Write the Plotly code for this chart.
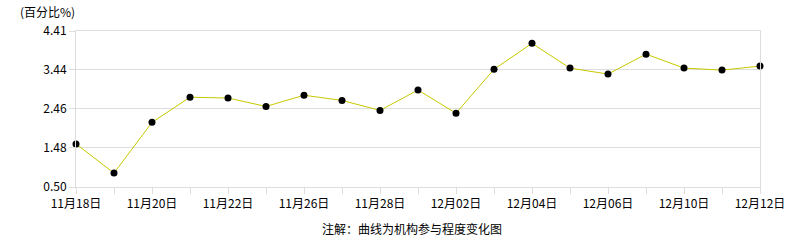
import plotly.graph_objects as go

dates = ["11月18日", "11月19日", "11月20日", "11月21日", "11月22日", "11月25日", "11月26日",
         "11月27日", "11月28日", "11月29日", "12月02日", "12月03日", "12月04日", "12月05日",
         "12月06日", "12月09日", "12月10日", "12月11日", "12月12日"]
values = [1.58, 0.85, 2.12, 2.75, 2.73, 2.52, 2.80, 2.67, 2.42, 2.93, 2.35, 3.45, 4.10,
          3.48, 3.33, 3.83, 3.48, 3.43, 3.53]
y_ticks = [0.50, 1.48, 2.46, 3.44, 4.41]
y_title = "(百分比%)"
note = "注解：曲线为机构参与程度变化图"

font_family = "Noto Sans CJK SC, DejaVu Sans, sans-serif"
grid = "#dddddd"

tick_text = [d if i % 2 == 0 else "" for i, d in enumerate(dates)]

fig = go.Figure()
fig.add_trace(go.Scatter(
    x=list(range(len(dates))), y=values, mode="lines+markers",
    line=dict(color="#c8c800", width=1),
    marker=dict(color="#000000", size=7),
    hoverinfo="skip", showlegend=False, cliponaxis=False,
))

fig.update_layout(
    width=786, height=240,
    margin=dict(l=76, r=26, t=31, b=53, autoexpand=False),
    paper_bgcolor="white", plot_bgcolor="white",
    font=dict(family=font_family, size=12, color="#000000"),
    xaxis=dict(
        range=[0, len(dates) - 1], tickmode="array",
        tickvals=list(range(len(dates))), ticktext=tick_text,
        ticks="outside", ticklen=6, tickcolor=grid,
        showgrid=False, showline=True, linecolor=grid, linewidth=1, mirror=True,
        zeroline=False, tickangle=0, fixedrange=True, automargin=False,
    ),
    yaxis=dict(
        range=[y_ticks[0], y_ticks[-1]], tickmode="array",
        tickvals=y_ticks, ticktext=[f"{v:.2f}" for v in y_ticks],
        ticks="outside", ticklen=6, tickcolor=grid,
        showgrid=True, gridcolor=grid, gridwidth=1,
        showline=True, linecolor=grid, linewidth=1, mirror=True,
        zeroline=False, fixedrange=True, automargin=False,
    ),
    annotations=[
        dict(text=y_title, xref="paper", yref="paper", x=-76/684, y=1 + 20/156,
             xanchor="left", yanchor="middle", showarrow=False,
             font=dict(size=12), xshift=18),
        dict(text=note, xref="paper", yref="paper", x=(412 - 76)/684, y=-41/156,
             xanchor="center", yanchor="middle", showarrow=False,
             font=dict(size=12)),
    ],
)

fig.write_html("out.html", config={"displayModeBar": False})
